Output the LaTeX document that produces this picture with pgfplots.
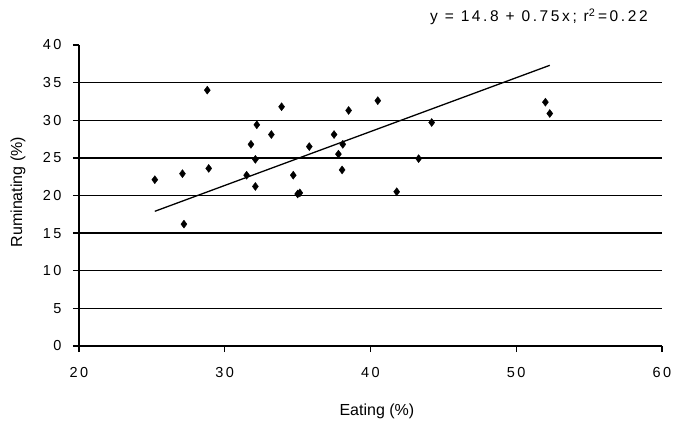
\documentclass[border=0pt]{standalone}
\usepackage{fontspec}
\setmainfont{Liberation Sans}
\usepackage{pgfplots}
\pgfplotsset{compat=1.18}
\newcommand\g{\kern2.4pt}
\newcommand\tg{\kern2.6pt}
\begin{document}
\begin{tikzpicture}
\path[use as bounding box] (-79pt,-80pt) rectangle (595pt,346pt);
\begin{axis}[
  at={(0pt,0pt)}, anchor=south west,
  scale only axis, width=583pt, height=301pt,
  xmin=20, xmax=60, ymin=0, ymax=40,
  xtick={20,30,40,50,60},
  xticklabels={2\g0,3\g0,4\g0,5\g0,6\g0},
  ytick={0,5,10,15,20,25,30,35},
  yticklabels={0,5,1\g0,1\g5,2\g0,2\g5,3\g0,3\g5},
  extra y ticks={40},
  extra y tick labels={4\g0},
  extra y tick style={grid=none},
  axis x line*=bottom, axis y line*=left,
  axis line style={line width=1.3pt, -},
  ymajorgrids,
  grid style={black, line width=1.3pt},
  tick align=outside,
  major tick length=6pt,
  tick style={black, line width=1.3pt},
  ticklabel style={font=\fontsize{14.5}{16}\selectfont},
  yticklabel style={xshift=-8pt},
  xticklabel style={yshift=-12pt},
  xlabel={Eating (\%)},
  ylabel={Ruminating (\%)},
  label style={font=\fontsize{16}{18}\selectfont},
  xlabel style={at={(axis description cs:0.511,0)}, anchor=center, yshift=-65pt},
  ylabel style={at={(axis description cs:0,0.511)}, anchor=center, yshift=61pt},
  clip=false,
]
\addplot[only marks, mark=diamond*, mark size=4pt, black] coordinates {
(25.2,22.1) (27.1,22.9) (27.2,16.2) (28.8,34.0) (28.9,23.6)
(31.5,22.7) (31.8,26.8) (32.1,24.8) (32.1,21.2) (32.2,29.4)
(33.2,28.1) (33.9,31.8) (34.7,22.7) (35.0,20.2) (35.15,20.35)
(35.8,26.5) (37.5,28.1) (37.8,25.5) (38.05,23.4) (38.1,26.8)
(38.5,31.3) (40.5,32.6) (41.8,20.5) (43.3,24.9) (44.2,29.7)
(52.0,32.4) (52.3,30.9)
};
\addplot[black, line width=1.3pt] coordinates {(25.2,17.9) (52.3,37.3)};
\node[anchor=west, inner sep=0pt, font=\fontsize{15.5}{17}\selectfont] at (rel axis cs:0.602,1) [yshift=28pt] {y\tg{} =\tg{} 1\tg4\tg.\tg8\tg{} +\tg{} 0\tg.\tg7\tg5\tg x\tg;\tg{} r\textsuperscript{2}\tg=\tg0\tg.\tg2\tg2};
\end{axis}
\end{tikzpicture}
\end{document}
